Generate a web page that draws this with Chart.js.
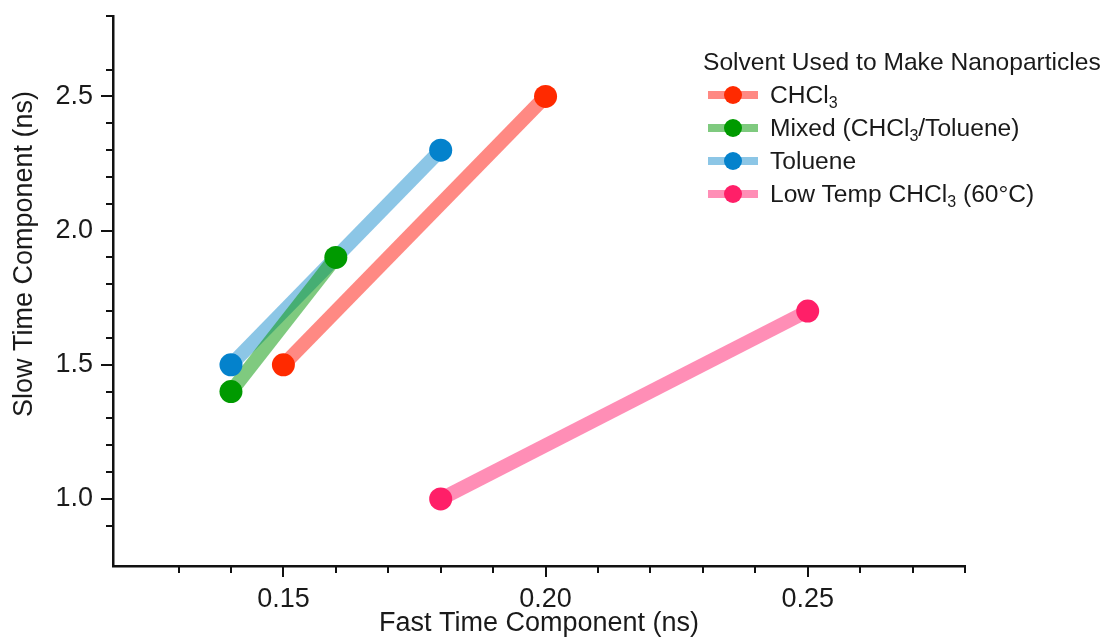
<!DOCTYPE html>
<html>
<head>
<meta charset="utf-8">
<script src="https://cdn.jsdelivr.net/npm/chart.js@4.4.1/dist/chart.umd.min.js"></script>
<style>
  html, body { margin: 0; padding: 0; background: #fff; }
  #wrap { position: relative; width: 1108px; height: 640px; }
  #legend {
    position: absolute; left: 703px; top: 46px;
    font-family: "Liberation Sans", Arial, Helvetica, sans-serif;
    font-size: 24.6px; color: #1a1a1a;
  }
  #legend .title { height: 32px; line-height: 32px; }
  #legend .item { position: relative; height: 33px; line-height: 33px; padding-left: 67px; }
  #legend .swatch { position: absolute; left: 5px; top: 13px; width: 50px; height: 8px; }
  #legend .dot { position: absolute; left: 21px; top: 8px; width: 18px; height: 18px; border-radius: 50%; }
  #legend sub { font-size: 16px; vertical-align: -5px; line-height: 0; }
</style>
</head>
<body>
<div id="wrap">
  <canvas id="chart" width="1108" height="640"></canvas>
  <div id="legend"></div>
</div>
<script>
// Solvent series, fast vs slow lifetime components (ns)
const seriesNames = ['CHCl3', 'Mixed (CHCl3/Toluene)', 'Toluene', 'Low Temp CHCl3 (60°C)'];
const fastCHCl3 = [0.15, 0.20];
const slowCHCl3 = [1.5, 2.5];
const fastMixed = [0.14, 0.16];
const slowMixed = [1.4, 1.9];
const fastToluene = [0.14, 0.18];
const slowToluene = [1.5, 2.3];
const fastLowTemp = [0.18, 0.25];
const slowLowTemp = [1.0, 1.7];

const lineColors = ['rgba(255,40,30,0.55)', 'rgba(0,150,0,0.5)', 'rgba(0,128,200,0.45)', 'rgba(255,30,110,0.5)'];
const pointColors = ['#ff2a00', '#009a00', '#0482cc', '#ff1f68'];

// tick labels
const xMajorTicks = [0.15, 0.20, 0.25];
const yMajorTicks = [1.0, 1.5, 2.0, 2.5];

const FONT = '"Liberation Sans", Arial, Helvetica, sans-serif';

const fastSeries = [fastCHCl3, fastMixed, fastToluene, fastLowTemp];
const slowSeries = [slowCHCl3, slowMixed, slowToluene, slowLowTemp];

function near(a, b) { return Math.abs(a - b) < 1e-6; }
function onStep(v, step) { return near(Math.round(v / step) * step, v); }

// lines first (order 2), then all points on top (order 1)
const datasets = [];
seriesNames.forEach((name, i) => {
  const pts = fastSeries[i].map((fx, j) => ({ x: fx, y: slowSeries[i][j] }));
  datasets.push({
    label: name,
    data: pts,
    showLine: true,
    borderColor: lineColors[i],
    borderWidth: 14,
    pointRadius: 0,
    order: 2
  });
  datasets.push({
    label: name + ' points',
    data: pts,
    showLine: false,
    pointRadius: 11.5,
    pointHoverRadius: 11.5,
    pointBackgroundColor: pointColors[i],
    pointBorderWidth: 0,
    order: 1
  });
});

// tick marks: longer on labelled values
const axisTicks = {
  id: 'axisTicks',
  afterDraw(chart) {
    const { ctx, chartArea, scales: { x, y } } = chart;
    ctx.save();
    ctx.strokeStyle = '#111';
    ctx.lineWidth = 2;
    x.ticks.forEach(t => {
      if (!onStep(t.value, 0.01)) return;
      const px = Math.round(x.getPixelForValue(t.value));
      const len = xMajorTicks.some(m => near(m, t.value)) ? 11 : 7;
      ctx.beginPath();
      ctx.moveTo(px, chartArea.bottom);
      ctx.lineTo(px, chartArea.bottom + len);
      ctx.stroke();
    });
    y.ticks.forEach(t => {
      if (!onStep(t.value, 0.1)) return;
      const py = Math.round(y.getPixelForValue(t.value));
      const len = yMajorTicks.some(m => near(m, t.value)) ? 12 : 7;
      ctx.beginPath();
      ctx.moveTo(chartArea.left, py);
      ctx.lineTo(chartArea.left - len, py);
      ctx.stroke();
    });
    // y axis title
    ctx.translate(25, 254);
    ctx.rotate(-Math.PI / 2);
    ctx.fillStyle = '#1a1a1a';
    ctx.font = '27px ' + FONT;
    ctx.textAlign = 'center';
    ctx.textBaseline = 'middle';
    ctx.fillText('Slow Time Component (ns)', 0, 0);
    ctx.restore();
  }
};

const chart = new Chart(document.getElementById('chart'), {
  type: 'scatter',
  data: { datasets: datasets },
  options: {
    responsive: false,
    animation: false,
    layout: { padding: { top: 16, right: 143, left: 0, bottom: 0 } },
    plugins: { legend: { display: false }, tooltip: { enabled: false } },
    scales: {
      x: {
        type: 'linear',
        min: 0.1175,
        max: 0.28,
        afterFit: s => { s.height = 74; s.paddingLeft = 0; s.paddingRight = 0; },
        border: { display: true, color: '#111', width: 2.5 },
        grid: { display: false, drawTicks: false },
        ticks: {
          stepSize: 0.01,
          autoSkip: false,
          maxRotation: 0,
          padding: 17,
          color: '#1a1a1a',
          font: { family: FONT, size: 27 },
          callback: v => xMajorTicks.some(m => near(m, v)) ? v.toFixed(2) : ''
        },
        title: {
          display: true,
          text: 'Fast Time Component (ns)',
          color: '#1a1a1a',
          font: { family: FONT, size: 27 },
          padding: 0
        }
      },
      y: {
        type: 'linear',
        min: 0.75,
        max: 2.8,
        afterFit: s => { s.width = 113; s.paddingTop = 0; s.paddingBottom = 0; },
        border: { display: true, color: '#111', width: 2.5 },
        grid: { display: false, drawTicks: false },
        ticks: {
          stepSize: 0.1,
          autoSkip: false,
          padding: 20,
          color: '#1a1a1a',
          font: { family: FONT, size: 27 },
          callback: v => yMajorTicks.some(m => near(m, v)) ? v.toFixed(1) : ''
        }
      }
    }
  },
  plugins: [axisTicks]
});

// HTML legend so the subscripts render
const legend = document.getElementById('legend');
let html = '<div class="title">Solvent Used to Make Nanoparticles</div>';
seriesNames.forEach((name, i) => {
  html += '<div class="item"><span class="swatch" style="background:' + lineColors[i] + '"></span>' +
    '<span class="dot" style="background:' + pointColors[i] + '"></span>' +
    name.replace(/CHCl3/g, 'CHCl<sub>3</sub>') + '</div>';
});
legend.innerHTML = html;
</script>
</body>
</html>
